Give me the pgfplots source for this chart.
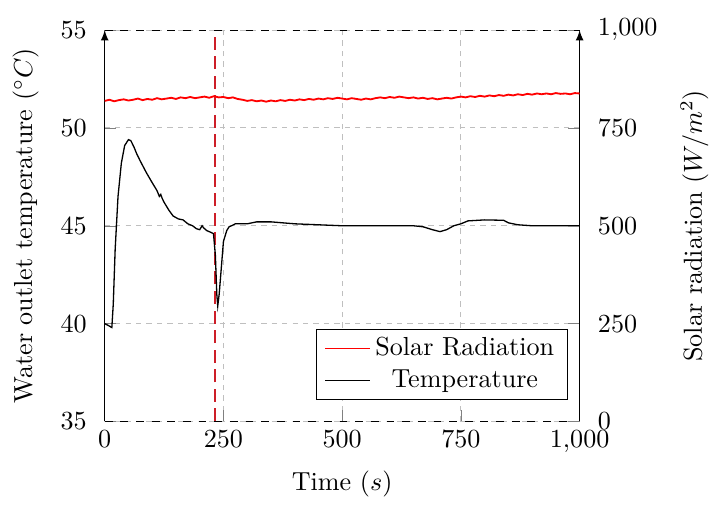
\documentclass[border=0pt]{standalone}
\usepackage{pgfplots}
\pgfplotsset{compat=1.18}
\definecolor{vline}{RGB}{205,30,40}
\begin{document}
\begin{tikzpicture}
\begin{axis}[
 name=ax1,
 scale only axis, width=182pt, height=150pt,
 xmin=0, xmax=1000, ymin=35, ymax=55,
 axis y line*=left, axis x line*=bottom,
 y axis line style={-latex},
 x axis line style={dashed,-},
 xtick={0,250,500,750,1000}, ytick={35,40,45,50,55},
 yticklabel shift=3.4pt, ylabel shift=1.5pt,
 grid=major, grid style={gray!50, dash pattern=on 2pt off 2pt},
 xlabel={Time ($s$)}, ylabel={Water outlet temperature ($^\circ C$)},
]
\addplot[vline, line width=0.7pt, dash pattern=on 5pt off 2.5pt, forget plot] coordinates {(232,35) (232,55)};
\addplot[black, line width=0.5pt] coordinates {
(0,40.0) (8,39.9) (15,39.8) (18,41.0) (22,43.8) (28,46.5) (35,48.2) (42,49.1) (50,49.4) (55,49.35)
(62,49.0) (67,48.7) (75,48.3) (88,47.7) (100,47.2) (110,46.8) (115,46.5) (118,46.6) (121,46.4) (125,46.2)
(135,45.8) (144,45.5) (155,45.35) (165,45.3) (175,45.1) (185,45.0) (193,44.85) (200,44.8) (205,45.0) (208,44.9)
(215,44.75) (222,44.68) (229,44.6) (233,43.5) (236,41.5) (238,40.9) (241,41.5) (246,43.0) (250,44.2) (257,44.76)
(262,44.95) (267,45.0) (275,45.1) (300,45.1) (310,45.15) (320,45.2) (350,45.2) (375,45.15) (400,45.1) (450,45.05)
(500,45.0) (550,45.0) (600,45.0) (650,45.0) (670,44.95) (690,44.8) (706,44.7) (720,44.8) (735,45.0) (750,45.1)
(765,45.25) (800,45.3) (840,45.28) (850,45.15) (870,45.05) (900,45.0) (1000,45.0)};
\draw[black, dashed] (rel axis cs:0,0) -- (rel axis cs:1,0);
\end{axis}
\begin{axis}[
 scale only axis, width=182pt, height=150pt,
 xmin=0, xmax=1000, ymin=0, ymax=1000,
 axis y line*=right, axis x line*=top,
 y axis line style={-latex},
 x axis line style={dashed,-},
 xtick=\empty, ytick={0,250,500,750,1000},
 yticklabel shift=3.5pt, ylabel shift=2pt,
 ylabel={Solar radiation ($W/m^2$)},
 legend style={at={(0.975,0.056)}, anchor=south east, cells={anchor=center}, inner ysep=1pt, inner xsep=3pt},
 legend cell align=center,
]
\addplot[red, line width=0.7pt, forget plot] coordinates {
(0,819) (10,822) (20,818) (30,821) (40,823) (50,820) (60,822) (70,825) (80,821) (90,824)
(100,822) (110,826) (120,823) (130,825) (140,827) (150,824) (160,828) (170,826) (180,829) (190,826)
(200,828) (210,830) (220,827) (230,831) (240,828) (250,829) (260,826) (270,828) (280,824) (290,822)
(300,819) (310,821) (320,818) (330,820) (340,817) (350,820) (360,818) (370,821) (380,819) (390,822)
(400,820) (410,823) (420,821) (430,824) (440,822) (450,825) (460,823) (470,826) (480,824) (490,827)
(500,825) (510,823) (520,826) (530,824) (540,822) (550,825) (560,823) (570,826) (580,828) (590,826)
(600,829) (610,827) (620,830) (630,828) (640,826) (650,828) (660,825) (670,827) (680,824) (690,826)
(700,823) (710,825) (720,827) (730,825) (740,828) (750,830) (760,828) (770,831) (780,829) (790,832)
(800,830) (810,833) (820,831) (830,834) (840,832) (850,835) (860,833) (870,836) (880,834) (890,837)
(900,835) (910,838) (920,836) (930,838) (940,836) (950,839) (960,837) (970,838) (980,836) (990,839) (1000,838)};
\addlegendimage{red}
\addlegendentry{Solar Radiation}
\addlegendimage{black}
\addlegendentry{Temperature}
\end{axis}
\path (current bounding box.north west) ++(-1.5pt,4pt) coordinate (padA);
\path (padA);
\end{tikzpicture}
\end{document}
